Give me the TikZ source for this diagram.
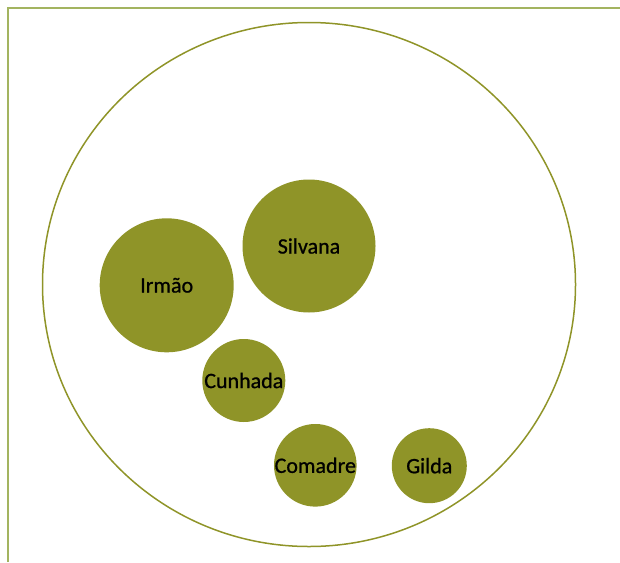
\documentclass[tikz,border=0pt]{standalone}
\usepackage{fontspec}
\setmainfont{Carlito}
\newfontfamily\rotulo{Carlito}[FakeBold=0.8]
\usepackage{xcolor}
\definecolor{oliva}{RGB}{143,148,40}
\definecolor{olivaclara}{RGB}{163,180,96}

\tikzset{
  bolha/.style={circle,fill=oliva,inner sep=0pt,
    font=\rotulo\fontsize{22}{24}\selectfont,text=black},
}

\begin{document}
\begin{tikzpicture}[x=1pt,y=-1pt]
      \useasboundingbox (0,0) rectangle (620,562);
      \draw[olivaclara,line width=2pt] (8,562) -- (8,8) -- (620,8);
      \draw[oliva,line width=1.5pt] (309,284.5) ellipse [x radius=266.5,y radius=262];
      \node[bolha,minimum size=133pt] (silvana) at (309,246) {Silvana};
      \node[bolha,minimum size=134pt] (irmao) at (166.7,285.3) {Irmão};
      \node[bolha,minimum size=83pt] (cunhada) at (243.8,380.5) {Cunhada};
      \node[bolha,minimum size=79pt] (comadre) at (315.3,465.3) {Comadre};
      \node[bolha,minimum size=75pt] (gilda) at (429.3,465.7) {Gilda};
    \end{tikzpicture}
\end{document}
